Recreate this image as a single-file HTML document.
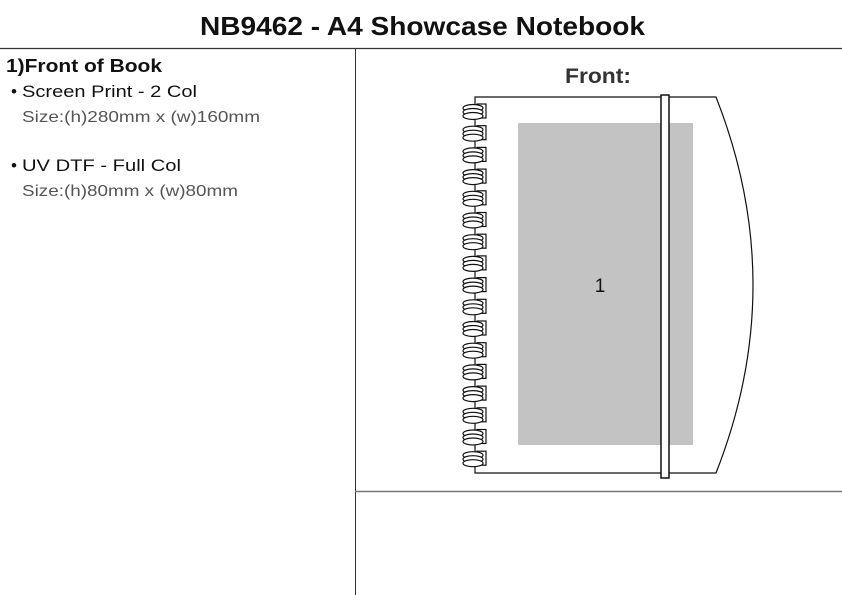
<!DOCTYPE html>
<html><head><meta charset="utf-8"><style>
body{margin:0;background:#fff;width:842px;height:595px;overflow:hidden;font-family:"Liberation Sans",Arial,sans-serif}
svg{position:absolute;left:0;top:0}
</style></head><body>
<svg id="s" width="842" height="595" viewBox="0 0 842 595">
<text x="200" y="35" textLength="445" lengthAdjust="spacingAndGlyphs" font-size="26" font-weight="bold" fill="#111">NB9462 - A4 Showcase Notebook</text>
<line x1="0" y1="48.5" x2="842" y2="48.5" stroke="#333" stroke-width="1.2"/>
<line x1="355.5" y1="48" x2="355.5" y2="595" stroke="#333" stroke-width="1"/>
<line x1="355" y1="491.5" x2="842" y2="491.5" stroke="#777" stroke-width="1.5"/>
<text x="6" y="72" textLength="156" lengthAdjust="spacingAndGlyphs" font-size="18" font-weight="bold" fill="#111">1)Front of Book</text>
<text x="11" y="97" font-size="17" fill="#111">•</text>
<text x="22" y="97" textLength="175" lengthAdjust="spacingAndGlyphs" font-size="17" fill="#111">Screen Print - 2 Col</text>
<text x="22" y="122" textLength="238" lengthAdjust="spacingAndGlyphs" font-size="16" fill="#555">Size:(h)280mm x (w)160mm</text>
<text x="11" y="171" font-size="17" fill="#111">•</text>
<text x="22" y="171" textLength="159" lengthAdjust="spacingAndGlyphs" font-size="17" fill="#111">UV DTF - Full Col</text>
<text x="22" y="196" textLength="216" lengthAdjust="spacingAndGlyphs" font-size="16" fill="#555">Size:(h)80mm x (w)80mm</text>
<text x="565" y="83" textLength="66" lengthAdjust="spacingAndGlyphs" font-size="21" font-weight="bold" fill="#333">Front:</text>
<path d="M475,97 H716 Q790,285 716,473 H475 Z" fill="#fff" stroke="#111" stroke-width="1.2"/>
<rect x="518" y="123" width="175" height="322" fill="#c3c3c3"/>
<text x="600" y="292" text-anchor="middle" font-size="19" fill="#111">1</text>
<rect x="661" y="95" width="8" height="383" fill="#fff" stroke="#111" stroke-width="1.5"/>
<g id="rings" stroke="#111" stroke-width="1.2" fill="#fff"></g>
</svg>
<script>
var g=document.getElementById('rings'),h='';
for(var i=0;i<17;i++){var y=108+i*21.7;
h+='<rect x="477" y="'+(y-4)+'" width="9" height="14" fill="#fff"/>';
h+='<ellipse cx="473" cy="'+y+'" rx="10" ry="3.5"/>';
h+='<ellipse cx="473" cy="'+(y+4)+'" rx="10" ry="3.5"/>';
h+='<ellipse cx="473" cy="'+(y+8)+'" rx="10" ry="3.5"/>';}
g.innerHTML=h;
</script>
</body></html>
